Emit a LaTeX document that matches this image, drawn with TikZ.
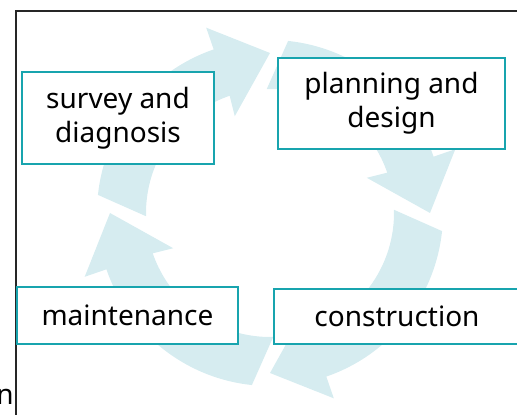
\documentclass[tikz,border=0pt]{standalone}
\usepackage{fontspec}
\setsansfont{Noto Sans}
\definecolor{ringcyan}{RGB}{214,236,240}
\definecolor{boxteal}{RGB}{24,164,174}

\begin{document}
\begin{tikzpicture}[x=1pt,y=1pt,
  stage/.style={draw=boxteal,line width=1.6pt,fill=white,inner sep=0pt,align=center,
    font=\sffamily\fontsize{28}{34}\selectfont},
  ringpart/.style={fill=ringcyan}]
  \useasboundingbox (0,0) rectangle (517,415);
  \draw[line width=1.4pt,black!85] (16,0) -- (16,404) -- (517,404);
  % four block arrows around the cycle, running clockwise
  \scope[shift={(270,202)}]
  \foreach\g in {0,90,180,270} {
    \fill[ringpart] ({\g+91.5}:124) -- ({\g+84}:173)
      arc[start angle=\g+84,end angle=\g+19,radius=173]
      -- ({\g+19}:196) -- (\g:160) -- ({\g+20}:103) -- ({\g+19}:124)
      arc[start angle=\g+19,end angle=\g+91.5,radius=124] -- cycle;
  }
  \endscope
  \node[stage,minimum width=192,minimum height=92] (survey) at (118,297) {survey and\\diagnosis};
  \node[stage,minimum width=227,minimum height=91] (plan) at (391.5,311.5) {planning and\\design};
  \node[stage,minimum width=221,minimum height=57] (maint) at (127.5,99.5) {maintenance};
  \node[stage,minimum width=246,minimum height=55] (constr) at (397,98.5) {construction};
  \node[anchor=base east,inner sep=0pt,font=\sffamily\fontsize{28}{34}\selectfont] (tail) at (14,10) {n};
\end{tikzpicture}
\end{document}
